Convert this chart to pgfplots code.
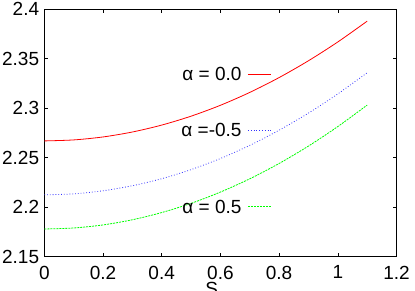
\documentclass[border=0pt]{standalone}
\usepackage{pgfplots}
\pgfplotsset{compat=1.18}
\usepackage{fontspec}
\setmainfont{Liberation Sans}
\begin{document}
\fontsize{19}{22}\selectfont
\begin{tikzpicture}
\begin{axis}[
  scale only axis, width=352.2pt, height=247.4pt,
  xmin=0, xmax=1.2, ymin=2.15, ymax=2.4,
  xtick={0,0.2,0.4,0.6,0.8,1,1.2},
  ytick={2.15,2.2,2.25,2.3,2.35,2.4},
  /pgf/number format/assume math mode=true,
  tick align=inside, major tick length=3.5pt,
  tick style={black, line width=0.6pt},
  axis line style={black, line width=0.7pt},
  tick label style={font=\fontsize{19}{22}\selectfont, inner sep=0pt},
  xticklabel style={yshift=-9pt},
  yticklabel style={xshift=-5pt},
  xlabel={S},
  xlabel style={at={(axis description cs:0.475,0)}, anchor=north, inner sep=0pt, yshift=-25pt, font=\fontsize{19}{22}\selectfont},
]
\addplot[red, line width=0.8pt, smooth] coordinates {
(0,2.267) (0.1,2.268) (0.2,2.271) (0.3,2.276) (0.4,2.283) (0.5,2.292)
(0.6,2.303) (0.7,2.316) (0.8,2.331) (0.9,2.348) (1.0,2.367) (1.1,2.388)};
\addplot[blue!80!white, line width=0.8pt, dotted, smooth] coordinates {
(0,2.2125) (0.1,2.2135) (0.2,2.2166) (0.3,2.2217) (0.4,2.2288) (0.5,2.238)
(0.6,2.2492) (0.7,2.2625) (0.8,2.2778) (0.9,2.2951) (1.0,2.3145) (1.1,2.3359)};
\addplot[green, line width=0.8pt, dash pattern=on 2pt off 1pt, smooth] coordinates {
(0,2.178) (0.1,2.179) (0.2,2.1821) (0.3,2.1873) (0.4,2.1946) (0.5,2.2039)
(0.6,2.2153) (0.7,2.2287) (0.8,2.2442) (0.9,2.2618) (1.0,2.2815) (1.1,2.3032)};
% legend samples
\addplot[red, line width=0.8pt, forget plot] coordinates {(0.694,2.3346) (0.772,2.3346)};
\addplot[blue!80!white, line width=0.8pt, dotted, forget plot] coordinates {(0.694,2.278) (0.772,2.278)};
\addplot[green, line width=0.8pt, dash pattern=on 2pt off 1pt, forget plot] coordinates {(0.694,2.2005) (0.772,2.2005)};
\node[anchor=east, inner sep=0pt] at (axis cs:0.6726,2.3346) {α = 0.0};
\node[anchor=east, inner sep=0pt] at (axis cs:0.6726,2.278) {α =-0.5};
\node[anchor=east, inner sep=0pt] at (axis cs:0.6726,2.2005) {α = 0.5};
\end{axis}
\pgfresetboundingbox
\useasboundingbox (-44.3pt,-34.3pt) rectangle (370.7pt,256.7pt);
\end{tikzpicture}
\end{document}
